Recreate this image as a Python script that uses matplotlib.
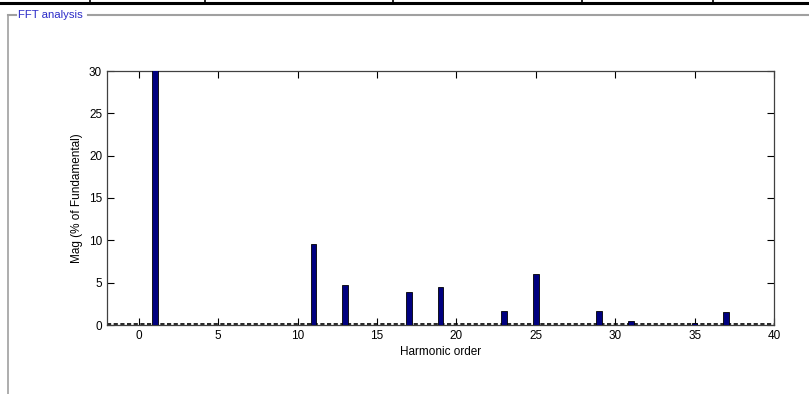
import matplotlib
matplotlib.use("Agg")
import matplotlib.pyplot as plt
from matplotlib.lines import Line2D

plt.rcParams['font.family'] = ['Liberation Sans Narrow', 'Liberation Sans', 'DejaVu Sans']

# Harmonic spectrum (% of fundamental)
orders = [1, 11, 13, 17, 19, 23, 25, 29, 31, 35, 37]
mags = [100, 9.6, 4.7, 3.9, 4.5, 1.6, 6.0, 1.6, 0.5, 0.2, 1.5]
xticks = [0, 5, 10, 15, 20, 25, 30, 35, 40]
yticks = [0, 5, 10, 15, 20, 25, 30]

W, H = 809, 394
fig = plt.figure(figsize=(W / 100, H / 100), dpi=100)

# table border remnants at the top and group box frame
fig.add_artist(Line2D([0, 1], [1 - 3 / H] * 2, color='black', lw=2.2))
for vx in [90, 205, 393, 582, 713]:
    fig.add_artist(Line2D([vx / W] * 2, [1, 1 - 3 / H], color='black', lw=1.2))
fig.add_artist(Line2D([8 / W, 16 / W], [1 - 15 / H] * 2, color='#a0a0a0', lw=1.5))
fig.add_artist(Line2D([88 / W, 808 / W], [1 - 15 / H] * 2, color='#a0a0a0', lw=1.5))
fig.add_artist(Line2D([8 / W] * 2, [1 - 15 / H, 0], color='#a0a0a0', lw=1.2))
fig.text(18 / W, 1 - 15 / H, 'FFT analysis', color='#2b2bc8', fontsize=8.2,
         va='center', ha='left')

ax = fig.add_axes([107 / W, 1 - 325 / H, (774 - 107) / W, (325 - 71) / H])
ax.bar(orders, mags, width=0.36, color='#00007f', edgecolor='black', linewidth=0.6, zorder=3)
ax.axhline(0.15, color='black', lw=1.2, ls=(0, (2.5, 1.5)), zorder=2)

ax.set_xlim(-2, 40)
ax.set_ylim(0, 30)
ax.set_xticks(xticks)
ax.set_yticks(yticks)
ax.tick_params(direction='in', top=True, right=True, length=5, width=0.8,
               labelsize=8.5, colors='black')
for s in ax.spines.values():
    s.set_linewidth(0.9)
    s.set_color('#404040')
ax.set_xlabel('Harmonic order', fontsize=8.5, labelpad=3)
ax.set_ylabel('Mag (% of Fundamental)', fontsize=8.5, labelpad=4)

fig.savefig('out.png', dpi=100)
